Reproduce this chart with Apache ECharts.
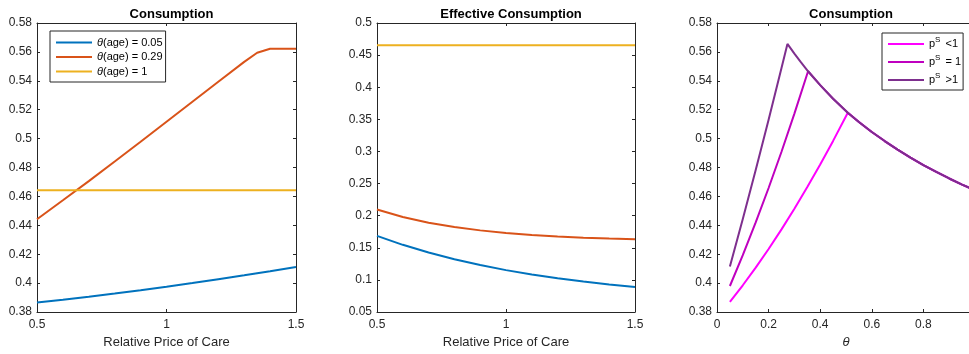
<!DOCTYPE html>
<html>
<head>
<meta charset="utf-8">
<script src="https://cdn.jsdelivr.net/npm/echarts@6/dist/echarts.min.js"></script>
<style>html,body{margin:0;padding:0;background:#fff;}#c{width:969px;height:354px;}</style>
</head>
<body>
<div id="c"></div>
<script>
// ---- Data ----
const priceX = [0.5, 0.6, 0.7, 0.8, 0.9, 1.0, 1.1, 1.2, 1.3, 1.4, 1.5];
const priceXKink = [0.5, 0.6, 0.7, 0.8, 0.9, 1.0, 1.1, 1.2, 1.3, 1.35, 1.4, 1.5];
const cons005 = [0.3865, 0.3885, 0.3906, 0.3928, 0.3951, 0.3975, 0.4000, 0.4027, 0.4054, 0.4082, 0.4112];
const cons029 = [0.4442, 0.4573, 0.4706, 0.4841, 0.4978, 0.5117, 0.5255, 0.5393, 0.5531, 0.5594, 0.5622, 0.5622];
const cons1 = [0.4643, 0.4643, 0.4643, 0.4643, 0.4643, 0.4643, 0.4643, 0.4643, 0.4643, 0.4643, 0.4643];
const eff005 = [0.1685, 0.1546, 0.1426, 0.1321, 0.1231, 0.1152, 0.1084, 0.1025, 0.0974, 0.0929, 0.0890];
const eff029 = [0.2095, 0.1980, 0.1891, 0.1823, 0.1771, 0.1731, 0.1700, 0.1676, 0.1658, 0.1644, 0.1633];
const eff1 = [0.4655, 0.4655, 0.4655, 0.4655, 0.4655, 0.4655, 0.4655, 0.4655, 0.4655, 0.4655, 0.4655];

const envTheta = [0.273, 0.3, 0.325, 0.353, 0.4, 0.45, 0.507, 0.55, 0.6, 0.65, 0.7, 0.75, 0.8, 0.85, 0.9, 0.95, 1.0];
const envCons = [0.5655, 0.5588, 0.5529, 0.5466, 0.537, 0.5276, 0.5179, 0.5115, 0.5046, 0.4983, 0.4924, 0.4869, 0.4817, 0.4769, 0.4724, 0.4682, 0.4643];
const riseThetaLow = [0.05, 0.1, 0.15, 0.2, 0.25, 0.3, 0.35, 0.4, 0.45, 0.507];
const riseConsLow = [0.387, 0.3985, 0.4107, 0.4236, 0.4372, 0.4515, 0.4665, 0.4821, 0.4984, 0.5179];
const riseThetaMid = [0.05, 0.1, 0.15, 0.2, 0.25, 0.3, 0.353];
const riseConsMid = [0.398, 0.4193, 0.442, 0.4658, 0.4909, 0.5173, 0.5466];
const riseThetaHigh = [0.05, 0.1, 0.15, 0.2, 0.25, 0.273];
const riseConsHigh = [0.4115, 0.4444, 0.4783, 0.5131, 0.5488, 0.5655];

const namesAge = ['θ(age) = 0.05', 'θ(age) = 0.29', 'θ(age) = 1'];
const namesPs = ['pS <1', 'pS = 1', 'pS >1'];
const titles = ['Consumption', 'Effective Consumption', 'Consumption'];

// ---- Helpers ----
const zip = (xs, ys) => xs.map((x, i) => [x, ys[i]]);
const withEnv = (xs, ys) => {
  const last = xs[xs.length - 1];
  const pts = zip(xs, ys);
  envTheta.forEach((t, i) => { if (t > last) pts.push([t, envCons[i]]); });
  return pts;
};
const FONT = 'Liberation Sans, Arial, Helvetica, sans-serif';
const AX = '#262626';
const fmt = v => String(+v.toFixed(3));

const grids = [
  {left: 37, top: 23, width: 259, height: 289, outerBoundsMode: 'none', containLabel: false},
  {left: 377, top: 23, width: 258, height: 289, outerBoundsMode: 'none', containLabel: false},
  {left: 717, top: 23, width: 258, height: 289, outerBoundsMode: 'none', containLabel: false}
];

function xAx(gi, min, max, interval, name, italic, hideMax) {
  return [{
    type: 'value', gridIndex: gi, min, max, interval, position: 'bottom',
    name, nameLocation: 'middle', nameGap: 24,
    nameTextStyle: {fontFamily: FONT, fontSize: 13, color: AX, fontStyle: italic ? 'italic' : 'normal'},
    axisLine: {show: true, onZero: false, lineStyle: {color: AX, width: 1}},
    axisTick: {show: true, inside: true, length: 3, lineStyle: {color: AX}},
    axisLabel: {fontFamily: FONT, fontSize: 12, color: AX, margin: 7, formatter: fmt,
      showMaxLabel: !hideMax, showMinLabel: true},
    splitLine: {show: false}
  }, {
    type: 'value', gridIndex: gi, min, max, interval, position: 'top',
    axisLine: {show: true, onZero: false, lineStyle: {color: AX, width: 1}},
    axisTick: {show: true, inside: true, length: 3, lineStyle: {color: AX}},
    axisLabel: {show: false}, splitLine: {show: false}
  }];
}
function yAx(gi, min, max, interval) {
  return [{
    type: 'value', gridIndex: gi, min, max, interval, position: 'left',
    axisLine: {show: true, onZero: false, lineStyle: {color: AX, width: 1}},
    axisTick: {show: true, inside: true, length: 3, lineStyle: {color: AX}},
    axisLabel: {fontFamily: FONT, fontSize: 12, color: AX, margin: 5, formatter: fmt},
    splitLine: {show: false}
  }, {
    type: 'value', gridIndex: gi, min, max, interval, position: 'right',
    axisLine: {show: true, onZero: false, lineStyle: {color: AX, width: 1}},
    axisTick: {show: true, inside: true, length: 3, lineStyle: {color: AX}},
    axisLabel: {show: false}, splitLine: {show: false}
  }];
}

const xAxes = [].concat(
  xAx(0, 0.5, 1.5, 0.5, 'Relative Price of Care'),
  xAx(1, 0.5, 1.5, 0.5, 'Relative Price of Care'),
  xAx(2, 0, 1, 0.2, 'θ', true, true)
);
const yAxes = [].concat(
  yAx(0, 0.38, 0.58, 0.02),
  yAx(1, 0.05, 0.5, 0.05),
  yAx(2, 0.38, 0.58, 0.02)
);

const cAge = ['#0072BD', '#D95319', '#EDB120'];
const cPs = ['#FF00FF', '#BF00BF', '#7E2F8E'];

function line(name, data, xi, yi, color) {
  return {
    type: 'line', name, data, xAxisIndex: xi, yAxisIndex: yi,
    symbol: 'none', smooth: false, animation: false,
    lineStyle: {color, width: 2}, itemStyle: {color}
  };
}

const series = [
  line(namesAge[0], zip(priceX, cons005), 0, 0, cAge[0]),
  line(namesAge[1], zip(priceXKink, cons029), 0, 0, cAge[1]),
  line(namesAge[2], zip(priceX, cons1), 0, 0, cAge[2]),
  line(namesAge[0] + ' ', zip(priceX, eff005), 2, 2, cAge[0]),
  line(namesAge[1] + ' ', zip(priceX, eff029), 2, 2, cAge[1]),
  line(namesAge[2] + ' ', zip(priceX, eff1), 2, 2, cAge[2]),
  line(namesPs[0], withEnv(riseThetaLow, riseConsLow), 4, 4, cPs[0]),
  line(namesPs[1], withEnv(riseThetaMid, riseConsMid), 4, 4, cPs[1]),
  line(namesPs[2], withEnv(riseThetaHigh, riseConsHigh), 4, 4, cPs[2])
];

const chart = echarts.init(document.getElementById('c'), null, {renderer: 'canvas'});
chart.setOption({
  animation: false,
  backgroundColor: '#fff',
  title: titles.map((t, i) => ({
    text: t, left: grids[i].left + (i === 2 ? 129 : grids[i].width / 2), top: 3, textAlign: 'center',
    textStyle: {fontFamily: FONT, fontSize: 13, fontWeight: 'bold', color: '#000'}
  })),
  grid: grids,
  xAxis: xAxes,
  yAxis: yAxes,
  legend: [{
    data: namesAge, left: 50, top: 31, orient: 'vertical', icon: 'rect',
    itemWidth: 36, itemHeight: 2, itemGap: 1.5, padding: [5, 3, 4, 6],
    borderColor: AX, borderWidth: 1, backgroundColor: '#fff',
    formatter: n => n.replace('θ', '{i|θ}'),
    textStyle: {fontFamily: FONT, fontSize: 11, color: '#000', lineHeight: 13,
      rich: {i: {fontStyle: 'italic', fontFamily: FONT, fontSize: 11, lineHeight: 13}}}
  }, {
    data: namesPs, left: 882, top: 33, orient: 'vertical', icon: 'rect',
    itemWidth: 36, itemHeight: 2, itemGap: 2, padding: [3, 2, 2, 6],
    borderColor: AX, borderWidth: 1, backgroundColor: '#fff',
    formatter: n => n.replace('pS', 'p{s|S}'),
    textStyle: {fontFamily: FONT, fontSize: 11, color: '#000', lineHeight: 16,
      rich: {s: {fontSize: 8, fontFamily: FONT, verticalAlign: 'top', lineHeight: 16, padding: [0, 2, 0, 0]}}}
  }],
  series
});
</script>
</body>
</html>
